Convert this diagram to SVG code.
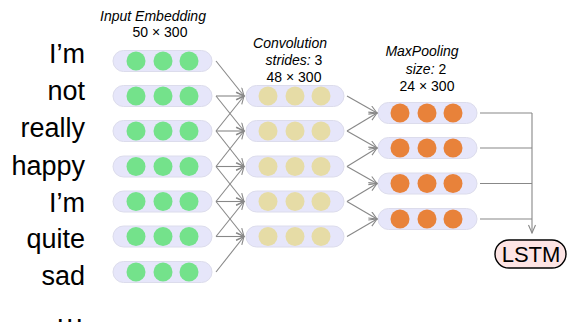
<svg xmlns="http://www.w3.org/2000/svg" width="568" height="326" viewBox="0 0 568 326">
<defs>
<style>
.pill{fill:#e6e6fa;stroke:#dcdcec;stroke-width:1}
.g{fill:#74e28b}
.t{fill:#e6dca6}
.o{fill:#e8823a}
.w{font-family:"Liberation Sans",Arial,sans-serif;font-size:27px;fill:#000;text-anchor:end}
.lab{font-family:"Liberation Sans",Arial,sans-serif;font-size:14px;fill:#000;text-anchor:middle}
.it{font-style:italic}
.c{stroke:#888;stroke-width:1.1;fill:none}
</style>
<marker id="ah" markerWidth="10" markerHeight="10" refX="9" refY="4" orient="auto" markerUnits="userSpaceOnUse">
<path d="M1,0.5 L9,4 L1,7.5" fill="none" stroke="#888" stroke-width="1.1"/>
</marker>
</defs>
<rect width="568" height="326" fill="#fff"/>

<g id="words">
<text class="w" x="85" y="63">I’m</text>
<text class="w" x="85" y="100">not</text>
<text class="w" x="85" y="137">really</text>
<text class="w" x="85" y="175">happy</text>
<text class="w" x="85" y="212">I’m</text>
<text class="w" x="85" y="248">quite</text>
<text class="w" x="85" y="285">sad</text>
<text class="w" x="85" y="322" letter-spacing="2">...</text>
</g>

<g id="labels">
<text class="lab it" x="153" y="21">Input Embedding</text>
<text class="lab" x="160" y="37">50 × 300</text>
<text class="lab it" x="290" y="48">Convolution</text>
<text class="lab" x="294" y="65"><tspan font-style="italic">strides:</tspan> 3</text>
<text class="lab" x="294" y="82">48 × 300</text>
<text class="lab it" x="422" y="56">MaxPooling</text>
<text class="lab" x="426" y="74"><tspan font-style="italic">size:</tspan> 2</text>
<text class="lab" x="427" y="91">24 × 300</text>
</g>

<g id="input-1"><rect class="pill" x="113" y="50.5" width="99" height="21" rx="10.5"/><circle class="g" cx="136" cy="61" r="9.5"/><circle class="g" cx="163" cy="61" r="9.5"/><circle class="g" cx="189" cy="61" r="9.5"/></g>
<g id="input-2"><rect class="pill" x="113" y="85.5" width="99" height="21" rx="10.5"/><circle class="g" cx="136" cy="96" r="9.5"/><circle class="g" cx="163" cy="96" r="9.5"/><circle class="g" cx="189" cy="96" r="9.5"/></g>
<g id="input-3"><rect class="pill" x="113" y="120.5" width="99" height="21" rx="10.5"/><circle class="g" cx="136" cy="131" r="9.5"/><circle class="g" cx="163" cy="131" r="9.5"/><circle class="g" cx="189" cy="131" r="9.5"/></g>
<g id="input-4"><rect class="pill" x="113" y="156" width="99" height="21" rx="10.5"/><circle class="g" cx="136" cy="166.5" r="9.5"/><circle class="g" cx="163" cy="166.5" r="9.5"/><circle class="g" cx="189" cy="166.5" r="9.5"/></g>
<g id="input-5"><rect class="pill" x="113" y="191" width="99" height="21" rx="10.5"/><circle class="g" cx="136" cy="201.5" r="9.5"/><circle class="g" cx="163" cy="201.5" r="9.5"/><circle class="g" cx="189" cy="201.5" r="9.5"/></g>
<g id="input-6"><rect class="pill" x="113" y="226" width="99" height="21" rx="10.5"/><circle class="g" cx="136" cy="236.5" r="9.5"/><circle class="g" cx="163" cy="236.5" r="9.5"/><circle class="g" cx="189" cy="236.5" r="9.5"/></g>
<g id="input-7"><rect class="pill" x="113" y="261.5" width="99" height="21" rx="10.5"/><circle class="g" cx="136" cy="272" r="9.5"/><circle class="g" cx="163" cy="272" r="9.5"/><circle class="g" cx="189" cy="272" r="9.5"/></g>

<g id="conv-1"><rect class="pill" x="246" y="85.5" width="98" height="21" rx="10.5"/><circle class="t" cx="268" cy="96" r="9.5"/><circle class="t" cx="295" cy="96" r="9.5"/><circle class="t" cx="321" cy="96" r="9.5"/></g>
<g id="conv-2"><rect class="pill" x="246" y="120.5" width="98" height="21" rx="10.5"/><circle class="t" cx="268" cy="131" r="9.5"/><circle class="t" cx="295" cy="131" r="9.5"/><circle class="t" cx="321" cy="131" r="9.5"/></g>
<g id="conv-3"><rect class="pill" x="246" y="156" width="98" height="21" rx="10.5"/><circle class="t" cx="268" cy="166.5" r="9.5"/><circle class="t" cx="295" cy="166.5" r="9.5"/><circle class="t" cx="321" cy="166.5" r="9.5"/></g>
<g id="conv-4"><rect class="pill" x="246" y="191" width="98" height="21" rx="10.5"/><circle class="t" cx="268" cy="201.5" r="9.5"/><circle class="t" cx="295" cy="201.5" r="9.5"/><circle class="t" cx="321" cy="201.5" r="9.5"/></g>
<g id="conv-5"><rect class="pill" x="246" y="226" width="98" height="21" rx="10.5"/><circle class="t" cx="268" cy="236.5" r="9.5"/><circle class="t" cx="295" cy="236.5" r="9.5"/><circle class="t" cx="321" cy="236.5" r="9.5"/></g>

<g id="pool-1"><rect class="pill" x="378" y="102.5" width="99" height="21" rx="10.5"/><circle class="o" cx="400" cy="113" r="9.5"/><circle class="o" cx="427" cy="113" r="9.5"/><circle class="o" cx="453" cy="113" r="9.5"/></g>
<g id="pool-2"><rect class="pill" x="378" y="137.5" width="99" height="21" rx="10.5"/><circle class="o" cx="400" cy="148" r="9.5"/><circle class="o" cx="427" cy="148" r="9.5"/><circle class="o" cx="453" cy="148" r="9.5"/></g>
<g id="pool-3"><rect class="pill" x="378" y="173" width="99" height="21" rx="10.5"/><circle class="o" cx="400" cy="183.5" r="9.5"/><circle class="o" cx="427" cy="183.5" r="9.5"/><circle class="o" cx="453" cy="183.5" r="9.5"/></g>
<g id="pool-4"><rect class="pill" x="378" y="208.5" width="99" height="21" rx="10.5"/><circle class="o" cx="400" cy="219" r="9.5"/><circle class="o" cx="427" cy="219" r="9.5"/><circle class="o" cx="453" cy="219" r="9.5"/></g>

<g id="lstm"><rect x="495" y="240" width="71" height="28" rx="14" fill="#fde4e4" stroke="#000" stroke-width="1.4"/><text x="531" y="262" font-family="Liberation Sans,Arial,sans-serif" font-size="22" text-anchor="middle" fill="#000">LSTM</text></g>

<g id="connectors">
<path class="c" marker-end="url(#ah)" d="M216,61 L244,96"/>
<path class="c" marker-end="url(#ah)" d="M216,96 L244,96"/>
<path class="c" marker-end="url(#ah)" d="M216,131 L244,96"/>
<path class="c" marker-end="url(#ah)" d="M216,96 L244,131"/>
<path class="c" marker-end="url(#ah)" d="M216,131 L244,131"/>
<path class="c" marker-end="url(#ah)" d="M216,166.5 L244,131"/>
<path class="c" marker-end="url(#ah)" d="M216,131 L244,166.5"/>
<path class="c" marker-end="url(#ah)" d="M216,166.5 L244,166.5"/>
<path class="c" marker-end="url(#ah)" d="M216,201.5 L244,166.5"/>
<path class="c" marker-end="url(#ah)" d="M216,166.5 L244,201.5"/>
<path class="c" marker-end="url(#ah)" d="M216,201.5 L244,201.5"/>
<path class="c" marker-end="url(#ah)" d="M216,236.5 L244,201.5"/>
<path class="c" marker-end="url(#ah)" d="M216,201.5 L244,236.5"/>
<path class="c" marker-end="url(#ah)" d="M216,236.5 L244,236.5"/>
<path class="c" marker-end="url(#ah)" d="M216,272 L244,236.5"/>

<path class="c" marker-end="url(#ah)" d="M347,96 L377,113"/>
<path class="c" marker-end="url(#ah)" d="M347,131 L377,113"/>
<path class="c" marker-end="url(#ah)" d="M347,131 L377,148"/>
<path class="c" marker-end="url(#ah)" d="M347,166.5 L377,148"/>
<path class="c" marker-end="url(#ah)" d="M347,166.5 L377,183.5"/>
<path class="c" marker-end="url(#ah)" d="M347,201.5 L377,183.5"/>
<path class="c" marker-end="url(#ah)" d="M347,201.5 L377,219"/>
<path class="c" marker-end="url(#ah)" d="M347,236.5 L377,219"/>

<path class="c" d="M480,113 L532,113 M480,148 L532,148 M480,183.5 L532,183.5 M480,219 L532,219"/>
<path class="c" marker-end="url(#ah)" d="M532,113 L532,233"/>
</g>
</svg>
